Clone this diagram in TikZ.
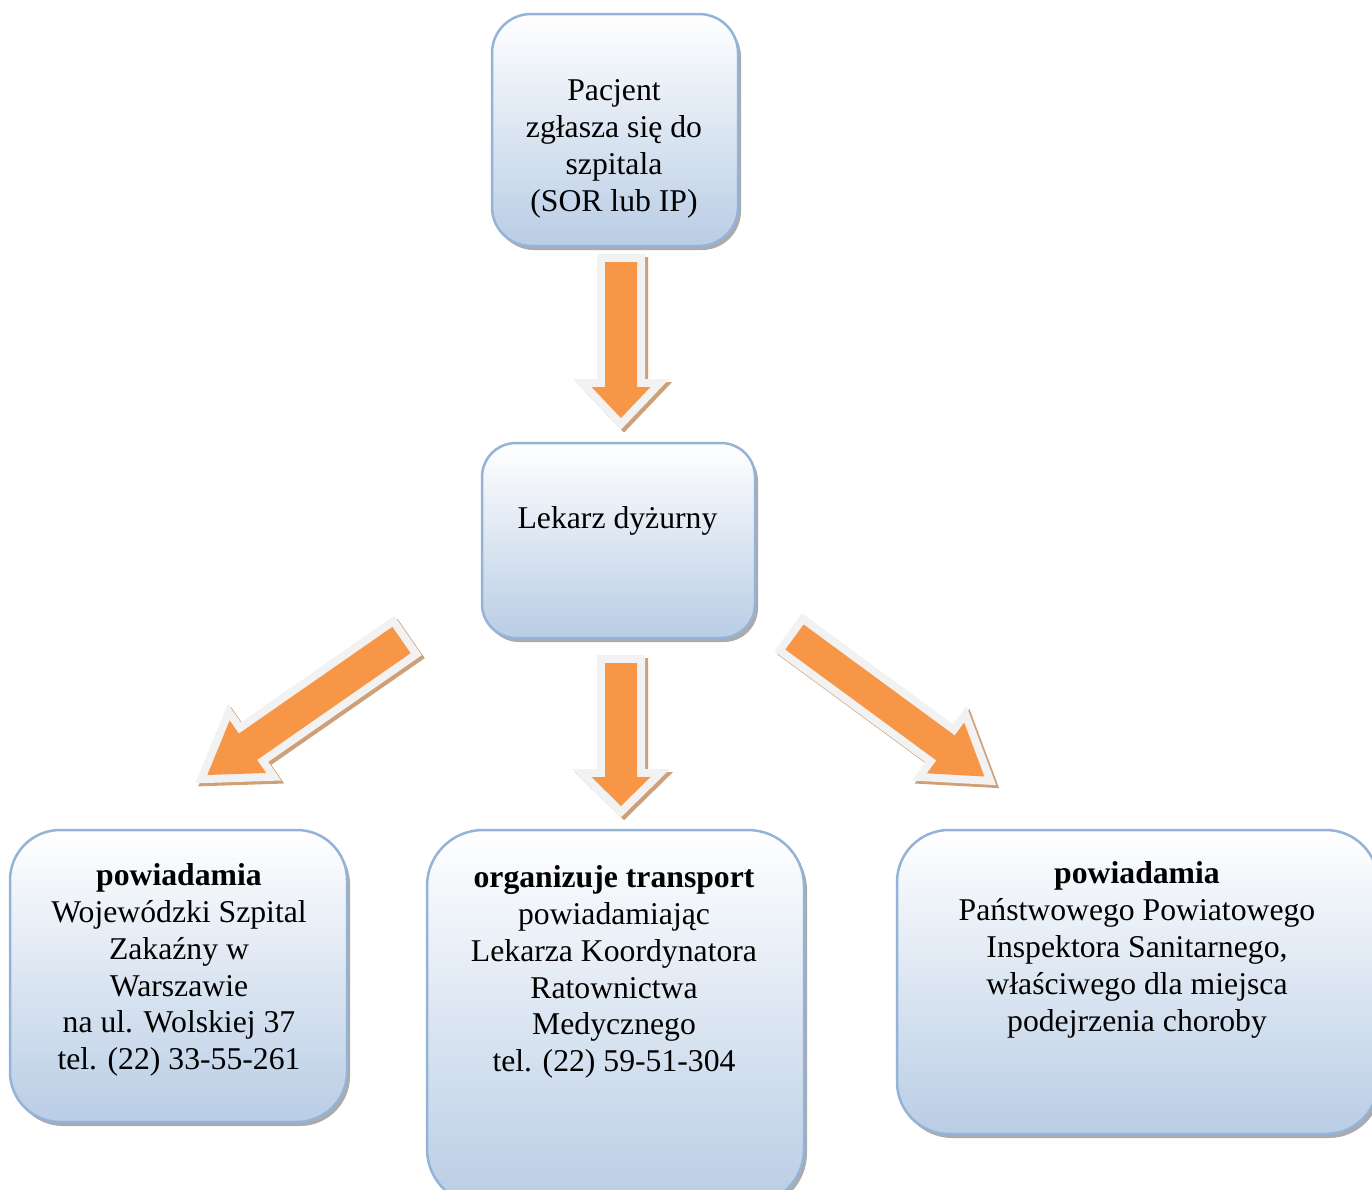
\documentclass[tikz,border=0pt]{standalone}
\usepackage{fontspec}
\setmainfont{Liberation Serif}
\usetikzlibrary{shadows}
\definecolor{boxline}{RGB}{149,179,215}
\definecolor{boxbot}{RGB}{185,205,229}
\definecolor{arrfill}{RGB}{247,150,70}
\definecolor{arredge}{RGB}{242,242,242}
\definecolor{arrshadow}{RGB}{205,160,120}
\definecolor{boxshadow}{RGB}{150,150,150}
% #1 x, #2 y of tail centre, #3 angle, #4 shaft length, #5 head length, #6 shaft half width, #7 head half width
\newcommand\blockarrow[7]{%
  \begin{scope}[shift={(3,3)}]
    \begin{scope}[shift={(#1,#2)}, rotate=#3]
      \draw[draw=arrshadow, fill=arrshadow, line width=16pt, line join=miter]
        (0,#6) -- (#4,#6) -- (#4,#7) -- ({#4+#5},0) -- (#4,-#7) -- (#4,-#6) -- (0,-#6) -- cycle;
    \end{scope}
  \end{scope}
  \begin{scope}[shift={(#1,#2)}, rotate=#3]
    \draw[draw=arredge, fill=arrfill, line width=16pt, line join=miter]
      (0,#6) -- (#4,#6) -- (#4,#7) -- ({#4+#5},0) -- (#4,-#7) -- (#4,-#6) -- (0,-#6) -- cycle;
    \fill[arrfill]
      (0,#6) -- (#4,#6) -- (#4,#7) -- ({#4+#5},0) -- (#4,-#7) -- (#4,-#6) -- (0,-#6) -- cycle;
  \end{scope}
}
\tikzset{
  box/.style={draw=boxline, line width=2.5pt, top color=white, bottom color=boxbot,
    inner sep=0pt, outer sep=0pt,
    drop shadow={shadow xshift=3pt, shadow yshift=-4pt, fill=boxshadow, opacity=0.8}},
  txt/.style={font=\fontsize{31.7}{36.8}\selectfont, align=center, inner sep=0pt, text=black}
}
\begin{document}
\begin{tikzpicture}[x=1pt, y=-1pt]
\useasboundingbox (0,0) rectangle (1372,1189);
% boxes
\node[box, minimum width=246pt, minimum height=232pt, rounded corners=39pt] (A) at (615,130) {};
\node[box, minimum width=273pt, minimum height=195pt, rounded corners=34pt] (B) at (618.5,540.5) {};
\node[box, minimum width=337pt, minimum height=292pt, rounded corners=50pt] (C) at (178.5,976) {};
\node[box, minimum width=377pt, minimum height=375pt, rounded corners=56pt] (D) at (615.5,1017.5) {};
\node[box, minimum width=481pt, minimum height=304pt, rounded corners=52pt] (E) at (1137.5,982) {};
% texts
\node[txt] (At) at (614,149) {Pacjent\\zgłasza się do\\szpitala\\(SOR lub IP)};
\node[txt] (Bt) at (617.5,521) {Lekarz dyżurny};
\node[txt] (Ct) at (179,970) {\textbf{powiadamia}\\Wojewódzki Szpital\\Zakaźny w\\Warszawie\\na ul. Wolskiej 37\\tel. (22) 33-55-261};
\node[txt] (Dt) at (614,972) {\textbf{organizuje transport}\\powiadamiając\\Lekarza Koordynatora\\Ratownictwa\\Medycznego\\tel. (22) 59-51-304};
\node[txt] (Et) at (1137,950) {\textbf{powiadamia}\\Państwowego Powiatowego\\Inspektora Sanitarnego,\\właściwego dla miejsca\\podejrzenia choroby};
% arrows
\blockarrow{621}{262}{-90}{125}{31}{16}{29.5}
\blockarrow{621}{663}{-90}{114}{29}{16}{29.5}
\blockarrow{401.5}{640}{214.8}{187}{49.5}{16}{32}
\blockarrow{794.5}{637}{-36.3}{187.4}{48.2}{15.5}{31.5}
\end{tikzpicture}
\end{document}
